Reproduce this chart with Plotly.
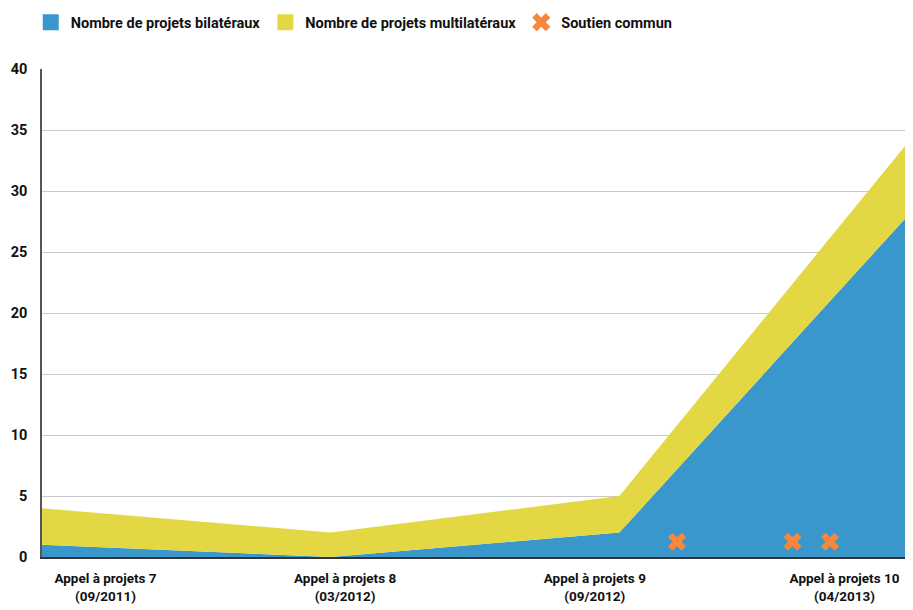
import plotly.graph_objects as go

# ---- data ----
appels = [0, 1, 2, 3]  # index of each call for projects
bilateraux = [1, 0, 2, 28]
multilateraux = [3, 2, 3, 6]
soutien_x = [2.20, 2.60, 2.73]
soutien_y = [1.25, 1.25, 1.25]
tick_labels = ["Appel à projets 7<br>(09/2011)", "Appel à projets 8<br>(03/2012)",
               "Appel à projets 9<br>(09/2012)", "Appel à projets 10<br>(04/2013)"]
tick_pos = [0.22, 1.05, 1.915, 2.78]
y_ticks = [0, 5, 10, 15, 20, 25, 30, 35, 40]

BLUE = "#3a97cc"
YELLOW = "#e3d843"
ORANGE = "#f7873a"
FONT = "Roboto"

fig = go.Figure()
fig.add_trace(go.Scatter(x=appels, y=bilateraux, stackgroup="a", mode="none",
                         fillcolor=BLUE, showlegend=False, name="Nombre de projets bilatéraux"))
fig.add_trace(go.Scatter(x=appels, y=multilateraux, stackgroup="a", mode="none",
                         fillcolor=YELLOW, showlegend=False, name="Nombre de projets multilatéraux"))
fig.add_trace(go.Scatter(x=soutien_x, y=soutien_y, mode="markers", showlegend=False,
                         marker=dict(symbol="x", size=16, color=ORANGE, line=dict(width=0)),
                         name="Soutien commun"))
# legend entries
fig.add_trace(go.Scatter(x=[None], y=[None], mode="markers", name="Nombre de projets bilatéraux",
                         marker=dict(symbol="square", size=18, color=BLUE)))
fig.add_trace(go.Scatter(x=[None], y=[None], mode="markers", name="Nombre de projets multilatéraux",
                         marker=dict(symbol="square", size=18, color=YELLOW)))
fig.add_trace(go.Scatter(x=[None], y=[None], mode="markers", name="Soutien commun",
                         marker=dict(symbol="x", size=18, color=ORANGE, line=dict(width=0))))

# the page body adds an 8px offset, so the figure is 8px smaller
fig.update_layout(
    width=905, height=602,
    margin=dict(l=34, r=5, t=61, b=53, autoexpand=False),
    paper_bgcolor="white", plot_bgcolor="white",
    font=dict(family=FONT, size=13, color="#111111"),
    showlegend=True,
    legend=dict(orientation="h", traceorder="normal", x=-0.013, xanchor="left",
                y=1.063, yanchor="bottom", entrywidthmode="pixels", entrywidth=0,
                font=dict(family=FONT, size=14.5, weight="bold", color="#111"),
                itemwidth=30, bgcolor="rgba(0,0,0,0)"),
    xaxis=dict(range=[0, 3], tickvals=tick_pos, ticktext=tick_labels, showgrid=False,
               zeroline=False, showline=True, linecolor="#333333", linewidth=1.5,
               ticks="", automargin=False, ticklabelstandoff=8,
               tickfont=dict(family=FONT, size=13.5, weight="bold", color="#111")),
    yaxis=dict(range=[0, 40], tickvals=y_ticks, showgrid=True, gridcolor="#c8c8c8", gridwidth=1,
               zeroline=False, showline=True, linecolor="#555555", linewidth=1.5,
               ticks="", ticklabelstandoff=10, automargin=False,
               tickfont=dict(family=FONT, size=14.5, weight="bold", color="#111")),
)

fig.write_html("out.html")
